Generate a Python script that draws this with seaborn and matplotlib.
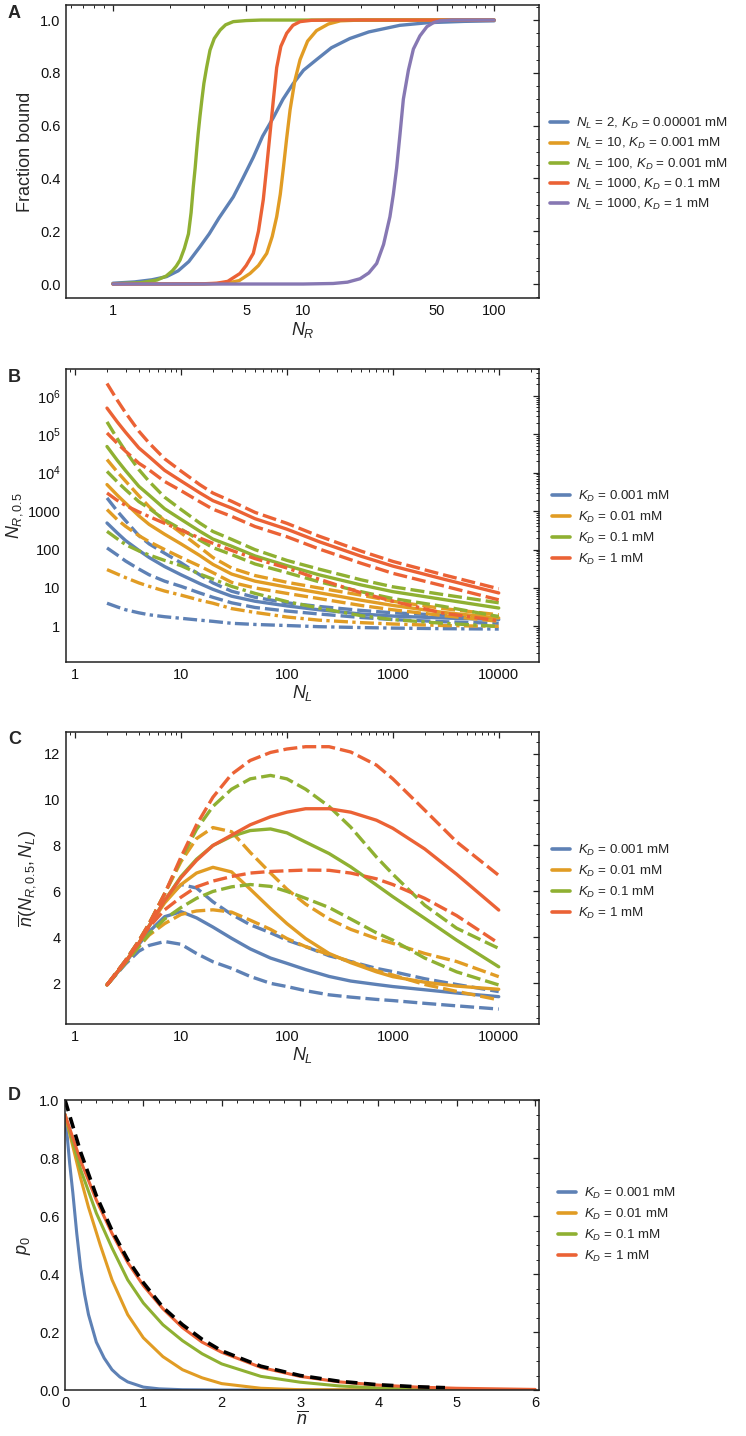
import numpy as np
import pandas as pd
import matplotlib
matplotlib.use("Agg")
import matplotlib.pyplot as plt
import seaborn as sns
from matplotlib.lines import Line2D
from matplotlib.ticker import FixedLocator, FixedFormatter, LogLocator, NullFormatter, MultipleLocator

sns.set_theme(style="white")
plt.rcParams['font.family'] = ['Liberation Sans', 'DejaVu Sans']
plt.rcParams['mathtext.fontset'] = 'custom'
plt.rcParams['mathtext.rm'] = 'Liberation Sans'
plt.rcParams['mathtext.it'] = 'Liberation Sans:italic'

blue, orange, green, red, purple = "#5E81B5", "#E19C24", "#8FB032", "#EB6235", "#8778B3"

# ---- panel A: fraction bound vs N_R
a_blue_x = [1, 1.3, 1.6, 1.91, 2.2, 2.5, 2.86, 3.2, 3.6, 4.28, 4.8, 5.45, 6.1, 6.94, 7.8, 8.84,
            10, 11.7, 14, 17.5, 22, 32, 45, 70, 100]
a_blue_y = [0.003, 0.008, 0.016, 0.028, 0.05, 0.085, 0.141, 0.19, 0.25, 0.33, 0.40, 0.48, 0.56,
            0.63, 0.70, 0.76, 0.81, 0.85, 0.895, 0.93, 0.955, 0.98, 0.99, 0.995, 0.997]
a_orange_x = [1, 3, 3.95, 4.6, 5.24, 5.8, 6.41, 6.85, 7.23, 7.55, 7.84, 8.15, 8.5, 9.0, 9.59,
              10.5, 11.7, 13.5, 15.6, 20, 100]
a_orange_y = [0.0, 0.0003, 0.003, 0.013, 0.04, 0.07, 0.116, 0.18, 0.255, 0.34, 0.44, 0.55, 0.66,
              0.77, 0.85, 0.92, 0.96, 0.985, 0.997, 1.0, 1.0]
a_green_x = [1, 1.4, 1.7, 1.9, 2.05, 2.15, 2.25, 2.37, 2.49, 2.57, 2.64, 2.7, 2.75, 2.8, 2.86,
             2.93, 3.0, 3.1, 3.23, 3.4, 3.65, 3.9, 4.28, 5, 6, 10, 100]
a_green_y = [0.001, 0.005, 0.015, 0.03, 0.05, 0.068, 0.091, 0.135, 0.19, 0.27, 0.369, 0.44, 0.508,
             0.57, 0.634, 0.70, 0.76, 0.82, 0.886, 0.93, 0.962, 0.982, 0.994, 0.998, 1.0, 1.0, 1.0]
a_red_x = [1, 2, 3, 3.5, 4, 4.64, 5.0, 5.45, 5.8, 6.15, 6.4, 6.67, 6.95, 7.23, 7.6, 8.16, 8.8,
           9.59, 11, 14, 100]
a_red_y = [0.0, 0.0003, 0.001, 0.003, 0.01, 0.04, 0.07, 0.116, 0.2, 0.32, 0.44, 0.57, 0.7, 0.82,
           0.9, 0.95, 0.98, 0.994, 0.999, 1.0, 1.0]
a_purple_x = [1, 10, 14.3, 17, 19.8, 22, 24.2, 26.3, 28.4, 29.6, 30.8, 32.1, 33.4, 35.5, 37.7,
              40.8, 44.4, 48, 52, 60, 100]
a_purple_y = [0.0, 0.0, 0.002, 0.007, 0.02, 0.042, 0.078, 0.15, 0.255, 0.34, 0.44, 0.57, 0.70,
              0.81, 0.89, 0.94, 0.975, 0.99, 0.997, 1.0, 1.0]
a_labels = [r"$N_L$ = 2, $K_D$ = 0.00001 mM", r"$N_L$ = 10, $K_D$ = 0.001 mM",
            r"$N_L$ = 100, $K_D$ = 0.001 mM", r"$N_L$ = 1000, $K_D$ = 0.1 mM",
            r"$N_L$ = 1000, $K_D$ = 1 mM"]

# ---- panel B: N_R,0.5 vs N_L  (hi / solid / lo = dashed, solid, dashed; dd = dash-dot)
b_nl = [2, 2.5, 3, 4, 5, 7, 10, 15, 20, 30, 50, 100, 200, 500, 1000, 3000, 10000]
b_red_hi = [2.1e6, 7.7e5, 3.6e5, 1.2e5, 5.9e4, 2.3e4, 1.1e4, 4.9e3, 2.95e3, 1.8e3, 925, 480, 224, 91, 49, 22, 9.5]
b_red = [4.8e5, 2.1e5, 1.12e5, 4.4e4, 2.6e4, 1.15e4, 6.1e3, 3.0e3, 1.87e3, 1.2e3, 634, 338, 161, 67, 37, 17, 7.4]
b_red_lo = [1.08e5, 5.8e4, 3.6e4, 1.76e4, 1.18e4, 5.9e3, 3.4e3, 1.76e3, 1.12e3, 730, 396, 215, 104, 44, 24, 11.3, 4.9]
b_red_dd = [2960, 1900, 1400, 950, 720, 480, 320, 200, 145, 95, 58, 33, 17, 7.5, 4.5, 2.2, 1.4]
b_green_hi = [2.1e5, 7.7e4, 3.6e4, 1.2e4, 5.9e3, 2.3e3, 1.1e3, 490, 295, 184, 99, 52, 31, 16.3, 10.7, 6.7, 4.1]
b_green = [4.8e4, 2.1e4, 1.12e4, 4.4e3, 2.6e3, 1.15e3, 610, 300, 187, 122, 68, 38, 22, 12, 8.0, 5.0, 3.0]
b_green_lo = [1.08e4, 5.8e3, 3.6e3, 1.76e3, 1.18e3, 590, 340, 176, 112, 74, 42, 25, 14.5, 8.0, 5.3, 3.3, 1.8]
b_green_dd = [297, 190, 134, 92, 72, 52, 38, 23, 17, 11, 7.2, 4.4, 3.0, 1.9, 1.5, 1.2, 1.0]
b_orange_hi = [2.2e4, 1.05e4, 6.0e3, 2.5e3, 1.3e3, 560, 270, 115, 62, 33, 21, 14, 10, 6.5, 4.5, 2.9, 2.0]
b_orange = [4.9e3, 2.6e3, 1.6e3, 750, 450, 250, 140, 70, 41, 23, 15, 10.5, 7.5, 4.8, 3.5, 2.3, 1.65]
b_orange_lo = [1.1e3, 600, 400, 230, 160, 100, 62, 37, 25, 14, 10, 7.2, 5.3, 3.5, 2.7, 1.9, 1.35]
b_orange_dd = [30, 23, 18.5, 13.5, 11, 8.3, 6.5, 4.8, 4.0, 2.9, 2.3, 1.75, 1.45, 1.25, 1.15, 1.05, 1.0]
b_blue_hi = [2.2e3, 1.0e3, 560, 230, 140, 80, 45, 22, 13.5, 8.2, 5.7, 4.1, 3.3, 2.6, 2.25, 1.95, 1.8]
b_blue = [490, 270, 170, 95, 62, 36, 22, 13, 9.2, 6.1, 4.5, 3.4, 2.7, 2.1, 1.85, 1.65, 1.5]
b_blue_lo = [110, 72, 50, 31, 22, 15, 11, 7.4, 5.7, 4.1, 3.1, 2.5, 2.1, 1.7, 1.5, 1.32, 1.2]
b_blue_dd = [4.0, 3.2, 2.7, 2.25, 2.0, 1.78, 1.62, 1.45, 1.35, 1.2, 1.12, 1.05, 0.98, 0.93, 0.9, 0.87, 0.85]

# ---- panel C: nbar(N_R,0.5, N_L) vs N_L
c_nl = [2, 3, 4, 5, 7, 10, 14, 20, 30, 45, 70, 100, 150, 250, 400, 700, 1000, 2000, 4000, 10000]
c_red_hi = [1.93, 3.0, 3.85, 4.6, 5.9, 7.5, 8.9, 10.1, 11.1, 11.7, 12.05, 12.2, 12.3, 12.3, 12.07, 11.5, 10.9, 9.54, 8.16, 6.7]
c_red = [1.93, 2.95, 3.75, 4.5, 5.6, 6.6, 7.35, 8.0, 8.45, 8.9, 9.25, 9.45, 9.6, 9.6, 9.45, 9.1, 8.75, 7.85, 6.75, 5.19]
c_red_lo = [1.93, 2.95, 3.8, 4.45, 5.2, 5.75, 6.2, 6.45, 6.65, 6.8, 6.87, 6.9, 6.93, 6.92, 6.8, 6.55, 6.3, 5.7, 4.95, 3.74]
c_green_hi = [1.93, 3.0, 3.85, 4.6, 5.9, 7.4, 8.7, 9.7, 10.45, 10.9, 11.05, 10.9, 10.45, 9.7, 8.8, 7.5, 6.75, 5.4, 4.4, 3.52]
c_green = [1.93, 2.95, 3.75, 4.5, 5.6, 6.65, 7.4, 8.0, 8.4, 8.65, 8.72, 8.55, 8.15, 7.65, 7.07, 6.28, 5.77, 4.83, 3.88, 2.72]
c_green_lo = [1.93, 2.9, 3.6, 4.15, 4.8, 5.3, 5.7, 6.0, 6.2, 6.3, 6.22, 6.0, 5.7, 5.3, 4.8, 4.2, 3.88, 3.1, 2.5, 1.93]
c_orange_hi = [1.93, 3.0, 3.85, 4.6, 5.9, 7.3, 8.3, 8.78, 8.6, 7.7, 6.8, 6.1, 5.45, 4.8, 4.35, 3.95, 3.74, 3.3, 2.95, 2.29]
c_orange = [1.93, 2.95, 3.75, 4.5, 5.5, 6.3, 6.8, 7.05, 6.85, 6.1, 5.25, 4.6, 3.95, 3.3, 2.9, 2.5, 2.29, 2.05, 1.88, 1.74]
c_orange_lo = [1.93, 2.9, 3.6, 4.1, 4.6, 5.0, 5.15, 5.2, 5.1, 4.75, 4.35, 3.95, 3.6, 3.25, 2.95, 2.55, 2.36, 1.95, 1.65, 1.28]
c_blue_hi = [1.93, 3.0, 3.85, 4.5, 5.6, 6.3, 6.15, 5.55, 5.0, 4.55, 4.2, 3.88, 3.6, 3.2, 2.95, 2.65, 2.51, 2.2, 1.95, 1.64]
c_blue = [1.93, 2.9, 3.7, 4.25, 4.9, 5.12, 4.85, 4.45, 3.96, 3.5, 3.1, 2.87, 2.6, 2.3, 2.1, 1.95, 1.86, 1.72, 1.58, 1.42]
c_blue_lo = [1.93, 2.85, 3.4, 3.65, 3.82, 3.7, 3.3, 2.94, 2.65, 2.3, 2.0, 1.86, 1.68, 1.5, 1.4, 1.3, 1.25, 1.13, 1.02, 0.88]

# ---- panel D: p0 vs nbar
d_blue_n = [0, 0.03, 0.06, 0.1, 0.15, 0.2, 0.25, 0.3, 0.4, 0.5, 0.6, 0.7, 0.8, 1.0, 1.2, 1.5, 2.0, 6.0]
d_blue_p = [0.95, 0.87, 0.78, 0.68, 0.54, 0.42, 0.33, 0.26, 0.165, 0.11, 0.07, 0.045, 0.028, 0.01, 0.004, 0.001, 0.0, 0.0]
d_orange_n = [0, 0.1, 0.2, 0.3, 0.45, 0.6, 0.8, 1.0, 1.25, 1.5, 1.75, 2.0, 2.5, 3.0, 6.0]
d_orange_p = [0.95, 0.84, 0.73, 0.63, 0.5, 0.38, 0.26, 0.18, 0.115, 0.07, 0.042, 0.022, 0.006, 0.001, 0.0]
d_green_n = [0, 0.2, 0.4, 0.6, 0.8, 1.0, 1.25, 1.5, 1.75, 2.0, 2.5, 3.0, 3.5, 4.0, 4.5, 6.0]
d_green_p = [0.95, 0.76, 0.61, 0.49, 0.38, 0.30, 0.225, 0.17, 0.125, 0.09, 0.047, 0.027, 0.014, 0.007, 0.003, 0.0]
d_red_n = [0, 0.2, 0.4, 0.6, 0.8, 1.0, 1.25, 1.5, 1.75, 2.0, 2.5, 3.0, 3.5, 4.0, 4.5, 5.0, 5.5, 6.0]
d_red_p = [0.95, 0.79, 0.655, 0.54, 0.44, 0.36, 0.28, 0.215, 0.165, 0.13, 0.078, 0.047, 0.028, 0.017, 0.01, 0.006, 0.004, 0.002]
d_black_n = [0, 0.2, 0.4, 0.6, 0.8, 1.0, 1.25, 1.5, 1.75, 2.0, 2.5, 3.0, 3.5, 4.0, 4.5, 4.85]
d_black_p = [1.0, 0.82, 0.67, 0.55, 0.45, 0.37, 0.285, 0.225, 0.175, 0.135, 0.082, 0.05, 0.03, 0.018, 0.011, 0.008]

kd_labels = [r"$K_D$ = 0.001 mM", r"$K_D$ = 0.01 mM", r"$K_D$ = 0.1 mM", r"$K_D$ = 1 mM"]

W, H = 746, 1436
fig = plt.figure(figsize=(W / 100, H / 100), dpi=100)


def box(top, bottom, left=66, right=539):
    return [left / W, 1 - bottom / H, (right - left) / W, (bottom - top) / H]


axA = fig.add_axes(box(5, 298))
axB = fig.add_axes(box(369, 662))
axC = fig.add_axes(box(732, 1024))
axD = fig.add_axes(box(1100, 1390, left=65))

LW = 2.4
solid = '-'
dash = (0, (4.2, 1.5))
dashdot = (0, (4.2, 1.3, 1.0, 1.3))


def line(ax, x, y, color, ls=solid, lw=LW):
    sns.lineplot(x=x, y=y, ax=ax, color=color, linestyle=ls, linewidth=lw,
                 estimator=None, sort=False)


def legend(ax, handles, labels, x, y, spacing):
    ax.legend(handles, labels, loc='center left', bbox_to_anchor=(x / W, 1 - y / H),
              bbox_transform=fig.transFigure, frameon=False, fontsize=9.6, handlelength=1.35,
              handletextpad=0.6, labelspacing=spacing, borderpad=0, borderaxespad=0)


# A
for x, y, c in [(a_blue_x, a_blue_y, blue), (a_orange_x, a_orange_y, orange),
                (a_green_x, a_green_y, green), (a_red_x, a_red_y, red),
                (a_purple_x, a_purple_y, purple)]:
    line(axA, x, y, c)
axA.set_xscale('log')
axA.set_xlim(0.567, 172)
axA.set_ylim(-0.053, 1.057)
axA.xaxis.set_major_locator(FixedLocator([1, 5, 10, 50, 100]))
axA.xaxis.set_major_formatter(FixedFormatter(['1', '5', '10', '50', '100']))
axA.xaxis.set_minor_locator(LogLocator(base=10, subs=np.arange(2, 10)))
axA.xaxis.set_minor_formatter(NullFormatter())
axA.yaxis.set_major_locator(MultipleLocator(0.2))
axA.yaxis.set_minor_locator(MultipleLocator(0.05))
axA.yaxis.set_major_formatter(plt.FormatStrFormatter('%.1f'))
axA.set_ylabel("Fraction bound", fontsize=13, labelpad=4)
axA.set_xlabel(r"$N_R$", fontsize=13, labelpad=2)
legend(axA, [Line2D([], [], color=c, lw=2.6) for c in [blue, orange, green, red, purple]],
       a_labels, 550, 164, 0.38)

# B
b_sets = [(blue, b_blue_hi, b_blue, b_blue_lo, b_blue_dd),
          (orange, b_orange_hi, b_orange, b_orange_lo, b_orange_dd),
          (green, b_green_hi, b_green, b_green_lo, b_green_dd),
          (red, b_red_hi, b_red, b_red_lo, b_red_dd)]
for c, hi, mid, lo, dd in b_sets:
    line(axB, b_nl, mid, c)
    line(axB, b_nl, hi, c, dash)
    line(axB, b_nl, lo, c, dash)
    line(axB, b_nl, dd, c, dashdot)
axB.set_xscale('log')
axB.set_yscale('log')
axB.set_xlim(0.82, 24000)
axB.set_ylim(0.118, 5.0e6)
axB.yaxis.set_major_locator(FixedLocator([1, 10, 100, 1000, 1e4, 1e5, 1e6]))
axB.yaxis.set_major_formatter(FixedFormatter(['1', '10', '100', '1000', r'$10^4$', r'$10^5$', r'$10^6$']))
axB.xaxis.set_major_locator(FixedLocator([1, 10, 100, 1000, 10000]))
axB.xaxis.set_major_formatter(FixedFormatter(['1', '10', '100', '1000', '10000']))
for axis in (axB.xaxis, axB.yaxis):
    axis.set_minor_locator(LogLocator(base=10, subs=np.arange(2, 10), numticks=30))
    axis.set_minor_formatter(NullFormatter())
axB.set_ylabel(r"$N_{R,0.5}$", fontsize=13, labelpad=2)
axB.set_xlabel(r"$N_L$", fontsize=13, labelpad=1)
kd_handles = [Line2D([], [], color=c, lw=2.6) for c in [blue, orange, green, red]]
legend(axB, kd_handles, kd_labels, 552, 528, 0.45)

# C
c_sets = [(blue, c_blue_hi, c_blue, c_blue_lo),
          (orange, c_orange_hi, c_orange, c_orange_lo),
          (green, c_green_hi, c_green, c_green_lo),
          (red, c_red_hi, c_red, c_red_lo)]
for c, hi, mid, lo in c_sets:
    line(axC, c_nl, mid, c)
    line(axC, c_nl, hi, c, dash)
    line(axC, c_nl, lo, c, dash)
axC.set_xscale('log')
axC.set_xlim(0.82, 24000)
axC.set_ylim(0.23, 12.94)
axC.xaxis.set_major_locator(FixedLocator([1, 10, 100, 1000, 10000]))
axC.xaxis.set_major_formatter(FixedFormatter(['1', '10', '100', '1000', '10000']))
axC.xaxis.set_minor_locator(LogLocator(base=10, subs=np.arange(2, 10), numticks=30))
axC.xaxis.set_minor_formatter(NullFormatter())
axC.yaxis.set_major_locator(MultipleLocator(2))
axC.yaxis.set_minor_locator(MultipleLocator(0.5))
axC.set_ylabel(r"$\overline{n}(N_{R,0.5},N_L)$", fontsize=13, labelpad=4)
axC.set_xlabel(r"$N_L$", fontsize=13, labelpad=1)
legend(axC, kd_handles, kd_labels, 552, 882, 0.45)

# D
for x, y, c in [(d_blue_n, d_blue_p, blue), (d_orange_n, d_orange_p, orange),
                (d_green_n, d_green_p, green), (d_red_n, d_red_p, red)]:
    line(axD, x, y, c, lw=2.2)
line(axD, d_black_n, d_black_p, 'black', (0, (3.2, 1.8)), lw=2.6)
axD.set_xlim(0, 6.05)
axD.set_ylim(0, 1.0)
axD.xaxis.set_major_locator(MultipleLocator(1))
axD.xaxis.set_minor_locator(MultipleLocator(0.2))
axD.yaxis.set_major_locator(MultipleLocator(0.2))
axD.yaxis.set_minor_locator(MultipleLocator(0.05))
axD.yaxis.set_major_formatter(plt.FormatStrFormatter('%.1f'))
axD.set_ylabel(r"$p_0$", fontsize=13, labelpad=4)
axD.set_xlabel(r"$\overline{n}$", fontsize=13, labelpad=1)
legend(axD, kd_handles, kd_labels, 558, 1225, 0.45)

for ax in (axA, axB, axC, axD):
    ax.tick_params(which='both', direction='in', top=True, right=True, labelsize=10.5,
                   color='#222222', labelcolor='#111111', pad=4)
    ax.tick_params(which='major', length=4, width=0.9)
    ax.tick_params(which='minor', length=2.2, width=0.7)
    for s in ax.spines.values():
        s.set_color('#222222')
        s.set_linewidth(1.1)
    ax.grid(False)

for letter, y in [('A', 13), ('B', 378), ('C', 740), ('D', 1095)]:
    fig.text(8 / W, 1 - y / H, letter, fontsize=13, fontweight='bold', va='center', ha='left')

fig.savefig("out.png", dpi=100)
